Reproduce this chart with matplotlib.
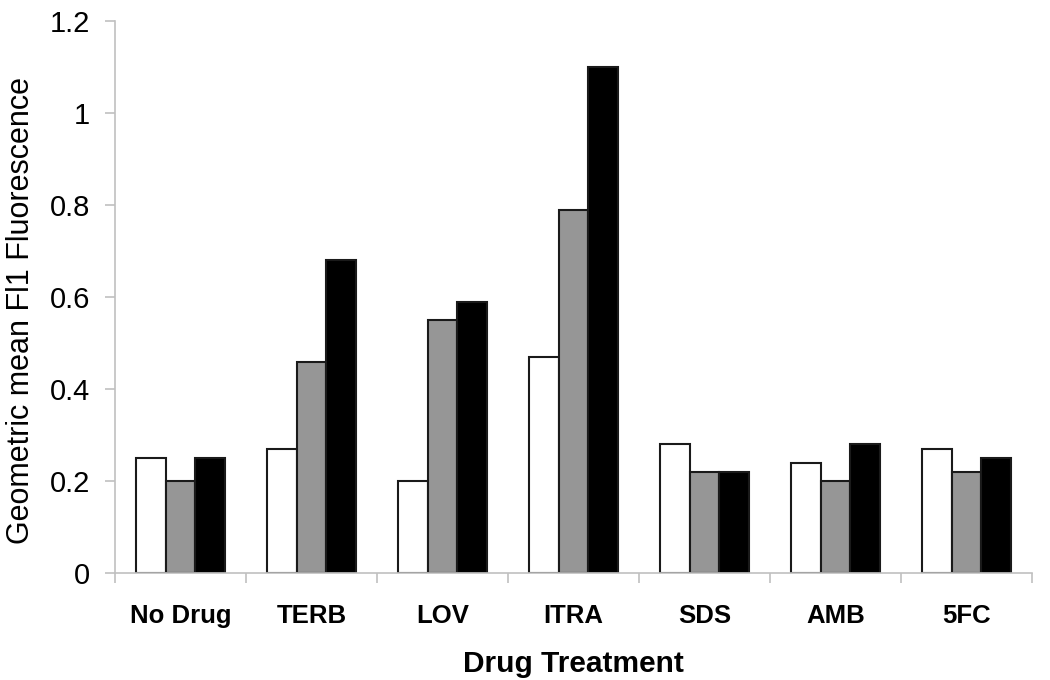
import matplotlib.pyplot as plt
import numpy as np

plt.rcParams['font.family'] = ['Liberation Sans', 'DejaVu Sans']

drugs = ['No Drug', 'TERB', 'LOV', 'ITRA', 'SDS', 'AMB', '5FC']
white_vals = [0.25, 0.27, 0.20, 0.47, 0.28, 0.24, 0.27]
gray_vals = [0.20, 0.46, 0.55, 0.79, 0.22, 0.20, 0.22]
black_vals = [0.25, 0.68, 0.59, 1.10, 0.22, 0.28, 0.25]

fig = plt.figure(figsize=(10.5, 6.8), dpi=100)
ax = fig.add_axes([0.1095, 0.157, 0.8735, 0.812])

x = np.arange(len(drugs))
w = 0.225
ax.bar(x - w, white_vals, w, color='white', edgecolor='#1a1a1a', linewidth=1.5)
ax.bar(x, gray_vals, w, color='#969696', edgecolor='#1a1a1a', linewidth=1.5)
ax.bar(x + w, black_vals, w, color='black', edgecolor='#1a1a1a', linewidth=1.5)

ax.set_xlim(-0.5, len(drugs) - 0.5)
ax.set_ylim(0, 1.2)
ax.set_yticks([0, 0.2, 0.4, 0.6, 0.8, 1.0, 1.2])
ax.set_yticklabels(['0', '0.2', '0.4', '0.6', '0.8', '1', '1.2'], fontsize=21)

# category ticks sit between groups, labels centred under them
ax.set_xticks(np.arange(len(drugs) + 1) - 0.5)
ax.set_xticklabels([])
ax.set_xticks(x, minor=True)
ax.set_xticklabels(drugs, minor=True, fontsize=18.5, fontweight='bold')
ax.tick_params(axis='x', which='minor', length=0, pad=22)
ax.tick_params(axis='x', which='major', length=7, color='#c0c0c0', width=1.2)
ax.tick_params(axis='y', length=7, color='#c0c0c0', width=1.2, pad=11)

for s in ['top', 'right']:
    ax.spines[s].set_visible(False)
for s in ['left', 'bottom']:
    ax.spines[s].set_color('#c0c0c0')
    ax.spines[s].set_linewidth(1.2)

ax.set_xlabel('Drug Treatment', fontsize=21.5, fontweight='bold', labelpad=16)
ax.set_ylabel('Geometric mean Fl1 Fluorescence', fontsize=22)
ax.yaxis.set_label_coords(-0.086, 0.475)

plt.savefig('out.png')
